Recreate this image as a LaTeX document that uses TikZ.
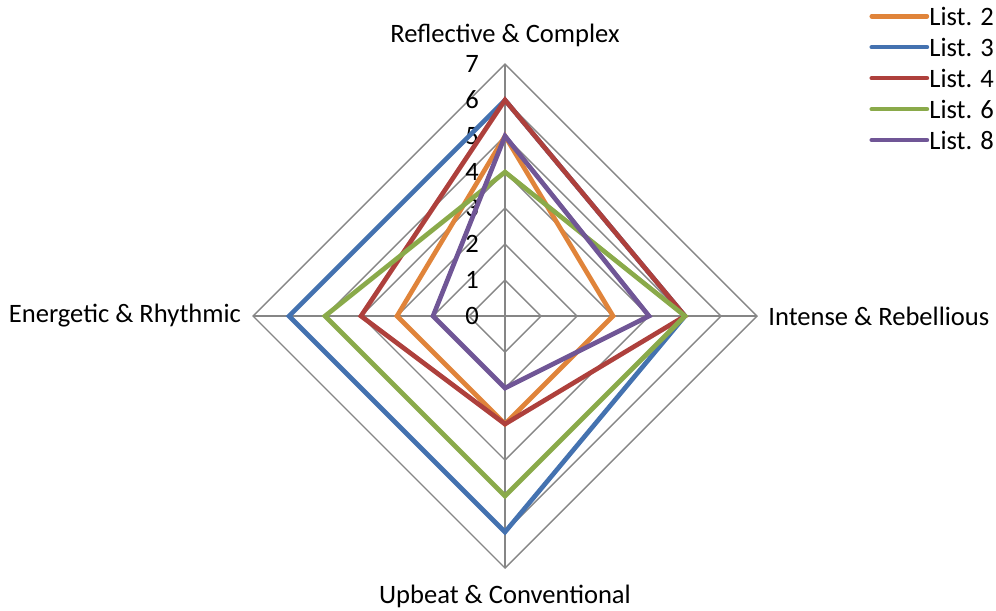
\documentclass[tikz,border=0pt]{standalone}
\usepackage{fontspec}
\setmainfont{Carlito}
\definecolor{listorange}{RGB}{224,132,58}
\definecolor{listblue}{RGB}{68,114,176}
\definecolor{listred}{RGB}{174,64,60}
\definecolor{listgreen}{RGB}{138,170,74}
\definecolor{listpurple}{RGB}{112,86,150}
\definecolor{gridgray}{RGB}{134,134,134}
\tikzset{
  gridline/.style={draw=gridgray, line width=1.1pt},
  series/.style={line width=3.7pt, line join=miter},
  legline/.style={line width=3.7pt, line cap=round},
  lbl/.style={font=\fontsize{21}{24}\selectfont, inner sep=0pt}
}
\begin{document}
\begin{tikzpicture}
            \useasboundingbox (-14.03,-8.19) rectangle (13.64,8.78);
            % rings and spokes
            \foreach \r in {1,...,7}
                \draw[gridline] (0,\r) -- (\r,0) -- (0,-\r) -- (-\r,0) -- cycle;
            \draw[gridline] (0,7) -- (0,-7);
            \draw[gridline] (-7,0) -- (7,0);
            % axis labels
            \foreach \v in {0,...,7}
                \node[lbl, anchor=east] (tick\v) at (-0.72,\v) {\v};
            \node[lbl] (reflective) at (0,7.8) {Reflective \& Complex};
            \node[lbl, anchor=west] (intense) at (7.31,0) {Intense \& Rebellious};
            \node[lbl] (upbeat) at (0,-7.8) {Upbeat \& Conventional};
            \node[lbl, anchor=east] (energetic) at (-7.33,0) {Energetic \& Rhythmic};
            % data
            \draw[series, listorange] (0,5) -- (3,0) -- (0,-3) -- (-3,0) -- cycle;
            \draw[series, listblue] (0,6) -- (5,0) -- (0,-6) -- (-6,0) -- cycle;
            \draw[series, listred] (0,6) -- (5,0) -- (0,-3) -- (-4,0) -- cycle;
            \draw[series, listgreen] (0,4) -- (5,0) -- (0,-5) -- (-5,0) -- cycle;
            \draw[series, listpurple] (0,5) -- (4,0) -- (0,-2) -- (-2,0) -- cycle;
            % legend
            \draw[legline, listorange] (10.19,8.33) -- (11.72,8.33) node[lbl, right=0.12, black] (leg2) {List. 2};
            \draw[legline, listblue] (10.19,7.47) -- (11.72,7.47) node[lbl, right=0.12, black] (leg3) {List. 3};
            \draw[legline, listred] (10.19,6.61) -- (11.72,6.61) node[lbl, right=0.12, black] (leg4) {List. 4};
            \draw[legline, listgreen] (10.19,5.75) -- (11.72,5.75) node[lbl, right=0.12, black] (leg6) {List. 6};
            \draw[legline, listpurple] (10.19,4.89) -- (11.72,4.89) node[lbl, right=0.12, black] (leg8) {List. 8};
        \end{tikzpicture}
\end{document}
